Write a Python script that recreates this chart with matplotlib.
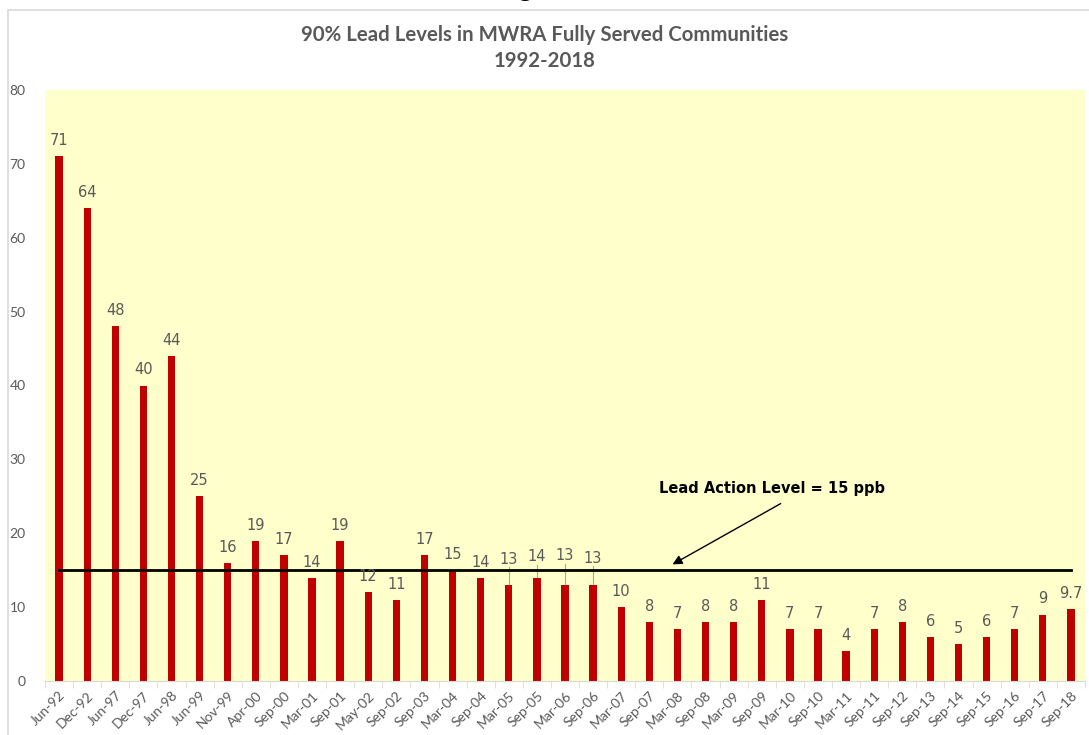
import matplotlib
matplotlib.use("Agg")
import matplotlib.pyplot as plt
from matplotlib.patches import Rectangle

# sampling dates and 90th percentile lead levels (ppb)
dates = ["Jun-92", "Dec-92", "Jun-97", "Dec-97", "Jun-98", "Jun-99", "Nov-99", "Apr-00",
         "Sep-00", "Mar-01", "Sep-01", "May-02", "Sep-02", "Sep-03", "Mar-04", "Sep-04",
         "Mar-05", "Sep-05", "Mar-06", "Sep-06", "Mar-07", "Sep-07", "Mar-08", "Sep-08",
         "Mar-09", "Sep-09", "Mar-10", "Sep-10", "Mar-11", "Sep-11", "Sep-12", "Sep-13",
         "Sep-14", "Sep-15", "Sep-16", "Sep-17", "Sep-18"]
lead = [71, 64, 48, 40, 44, 25, 16, 19, 17, 14, 19, 12, 11, 17, 15, 14,
        13, 14, 13, 13, 10, 8, 7, 8, 8, 11, 7, 7, 4, 7, 8, 6, 5, 6, 7, 9, 9.7]
action_level = 15
# labels that sit under the action level line get lifted above it
lifted = {"Mar-05": 16.5, "Sep-05": 16.8, "Mar-06": 17.0, "Sep-06": 16.6}

gray = "#595959"
plt.rcParams["font.family"] = ["Lato", "DejaVu Sans"]

fig = plt.figure(figsize=(10.89, 7.35), dpi=100)
fig.patches.append(Rectangle((8 / 1089, -0.01), 1.1, 1 - 10 / 735 + 0.01,
                             transform=fig.transFigure, fill=False,
                             edgecolor="#D9D9D9", linewidth=1.2))
# page heading above the chart, mostly cut off in the scan
fig.text(0.497, 1 + 4 / 735, "Figure 5", ha="center", va="baseline",
         fontsize=18, fontweight="bold", family="Liberation Serif")

ax = fig.add_axes([45 / 1089, 1 - 681 / 735, 1040 / 1089, 591 / 735])
ax.set_facecolor("#FFFFCC")

x = list(range(len(dates)))
ax.bar(x, lead, width=0.26, color="#C00000", zorder=2)

for i, (d, v) in enumerate(zip(dates, lead)):
    txt = "9.7" if v == 9.7 else str(int(v))
    if d in lifted:
        ly = lifted[d]
        ax.text(i, ly, txt, ha="center", va="center", fontsize=10.5, color=gray,
                family="DejaVu Sans", zorder=4)
        ax.plot([i, i], [v, ly - 1.1], color="#A6A6A6", linewidth=0.8, zorder=1)
    else:
        ax.text(i, v + 2.1, txt, ha="center", va="center", fontsize=10.5, color=gray,
                family="DejaVu Sans", zorder=4)

ax.plot([0, len(dates) - 1], [action_level, action_level], color="black", linewidth=2, zorder=3)
ax.annotate("", xy=(21.74, 15.6), xytext=(25.76, 24.2),
            arrowprops=dict(arrowstyle="-|>", color="black", linewidth=1, mutation_scale=14))
ax.text(25.37, 26.0, "Lead Action Level = 15 ppb", ha="center", va="center",
        fontsize=10.5, fontweight="bold", color="black", family="DejaVu Sans")

ax.set_xlim(-0.5, len(dates) - 0.5)
ax.set_ylim(0, 80)
ax.set_yticks(range(0, 81, 10))
ax.set_xticks(x)
ax.set_xticklabels(dates, rotation=45, ha="right", rotation_mode="anchor", fontsize=10, color=gray)
ax.set_xticks([i - 0.5 for i in range(len(dates) + 1)], minor=True)
ax.tick_params(axis="x", which="major", length=0, pad=6)
ax.tick_params(axis="x", which="minor", length=5, color="#D9D9D9")
ax.tick_params(axis="y", length=0, labelsize=10, labelcolor=gray, pad=14)
for s in ["top", "right", "left"]:
    ax.spines[s].set_visible(False)
ax.spines["bottom"].set_color("#D9D9D9")

fig.text(0.5, 1 - 35 / 735, "90% Lead Levels in MWRA Fully Served Communities",
         ha="center", va="center", fontsize=14.7, fontweight="bold", color=gray)
fig.text(0.5, 1 - 61 / 735, "1992-2018", ha="center", va="center",
         fontsize=14.7, fontweight="bold", color=gray)

fig.savefig("out.png", dpi=100)
